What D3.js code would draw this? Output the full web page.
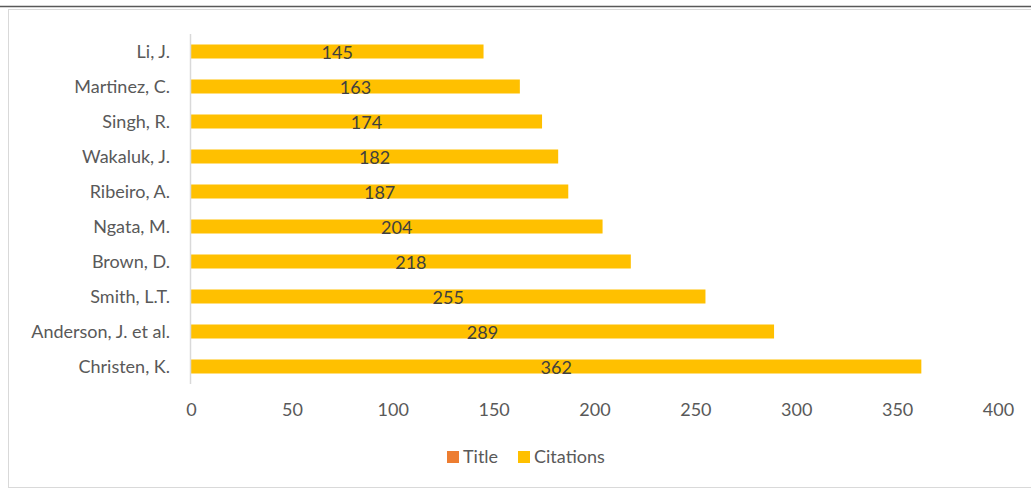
<!DOCTYPE html>
<html>
<head>
<meta charset="utf-8">
<script src="https://cdn.jsdelivr.net/npm/d3@7"></script>
<style>
  body { margin: 0; background: #fff; }
  text { font-family: Lato, "Open Sans", sans-serif; }
</style>
</head>
<body>
<div id="wrapper"></div>
<script>
const authors = ["Li, J.", "Martinez, C.", "Singh, R.", "Wakaluk, J.", "Ribeiro, A.",
  "Ngata, M.", "Brown, D.", "Smith, L.T.", "Anderson, J. et al.", "Christen, K."]
const citations = [145, 163, 174, 182, 187, 204, 218, 255, 289, 362]
const xTicks = [0, 50, 100, 150, 200, 250, 300, 350, 400]
const seriesNames = ["Title", "Citations"]
const seriesColors = ["#ED7D31", "#FFC000"]

function drawBarChart() {
  const data = authors.map((a, i) => ({ author: a, value: citations[i] }))

  let dimensions = {
    width: 1031,
    height: 489,
    margins: { top: 34, right: 33, bottom: 105, left: 191 }
  }
  dimensions.boundedWidth = dimensions.width - dimensions.margins.left - dimensions.margins.right
  dimensions.boundedHeight = dimensions.height - dimensions.margins.top - dimensions.margins.bottom

  const fontSize = "18px"

  const wrapper = d3.select("#wrapper")
    .append("svg")
      .attr("width", dimensions.width)
      .attr("height", dimensions.height)

  // chart frame
  wrapper.append("line")
    .attr("x1", 0).attr("x2", dimensions.width)
    .attr("y1", 6.5).attr("y2", 6.5)
    .attr("stroke", "#595959").attr("stroke-width", 1.5)
  wrapper.append("rect")
    .attr("x", 8.5).attr("y", 9.5)
    .attr("width", dimensions.width).attr("height", 478)
    .attr("fill", "none").attr("stroke", "#d9d9d9")

  const bounds = wrapper.append("g")
    .attr("transform", `translate(${dimensions.margins.left}, ${dimensions.margins.top})`)

  const xScale = d3.scaleLinear()
    .domain([0, 400])
    .range([0, dimensions.boundedWidth])

  const yScale = d3.scaleBand()
    .domain(authors)
    .range([0, dimensions.boundedHeight])
    .paddingInner(0.6)
    .paddingOuter(0.3)

  // bars
  bounds.selectAll(".bar")
    .data(data)
    .join("rect")
      .attr("class", "bar")
      .attr("x", 0)
      .attr("y", d => yScale(d.author))
      .attr("width", d => xScale(d.value))
      .attr("height", yScale.bandwidth())
      .attr("fill", seriesColors[1])

  // data labels
  bounds.selectAll(".lbl")
    .data(data)
    .join("text")
      .attr("class", "lbl")
      .attr("x", d => xScale(d.value) / 2)
      .attr("y", d => yScale(d.author) + yScale.bandwidth() / 2 + 2.5)
      .attr("text-anchor", "middle")
      .attr("dominant-baseline", "middle")
      .attr("fill", "#404040")
      .style("font-size", fontSize)
      .text(d => d.value)

  // y axis line
  bounds.append("line")
    .attr("x1", -0.5).attr("x2", -0.5)
    .attr("y1", 0).attr("y2", dimensions.boundedHeight)
    .attr("stroke", "#d9d9d9").attr("stroke-width", 1.5)

  // y axis labels
  const yAxis = bounds.append("g")
    .call(d3.axisLeft(yScale).tickSize(0).tickPadding(21))
  yAxis.select(".domain").remove()
  yAxis.selectAll("text")
    .attr("dy", "0.38em")
    .attr("fill", "#595959")
    .style("font-size", fontSize)
    .style("font-family", "Lato, 'Open Sans', sans-serif")

  // x axis labels
  const xAxis = bounds.append("g")
    .attr("transform", `translate(0, ${dimensions.boundedHeight})`)
    .call(d3.axisBottom(xScale).tickValues(xTicks).tickSize(0).tickPadding(19))
  xAxis.select(".domain").remove()
  xAxis.selectAll("text")
    .attr("fill", "#595959")
    .style("font-size", fontSize)
    .style("font-family", "Lato, 'Open Sans', sans-serif")

  // legend
  const legend = wrapper.append("g")
    .attr("transform", "translate(447, 457)")
  const legendX = [0, 71]
  seriesNames.forEach((name, i) => {
    const item = legend.append("g").attr("transform", `translate(${legendX[i]}, 0)`)
    item.append("rect")
      .attr("x", 0).attr("y", -6)
      .attr("width", 12).attr("height", 12)
      .attr("fill", seriesColors[i])
    item.append("text")
      .attr("x", 16).attr("y", 1)
      .attr("dominant-baseline", "middle")
      .attr("fill", "#595959")
      .style("font-size", fontSize)
      .text(name)
  })
}

drawBarChart()
</script>
</body>
</html>
